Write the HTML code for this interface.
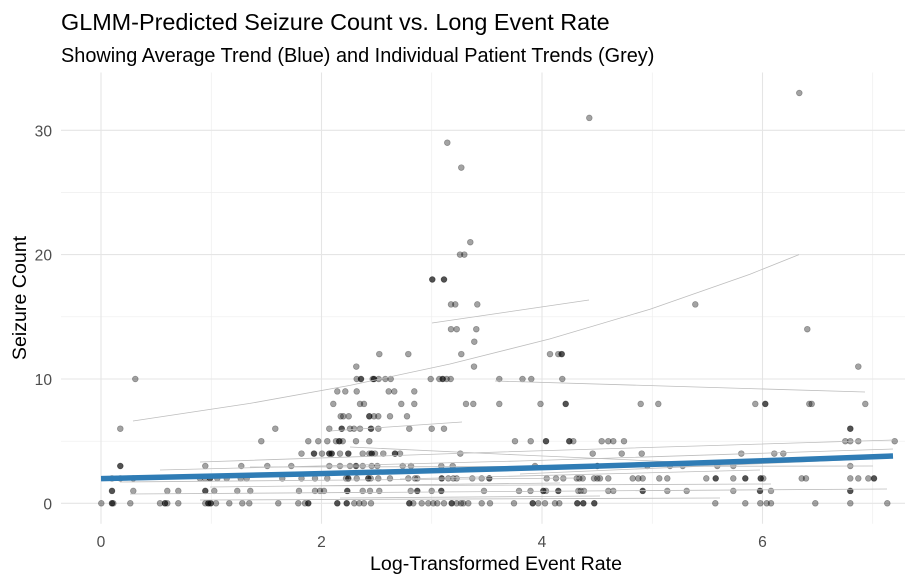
<!DOCTYPE html>
<html><head><meta charset="utf-8"><style>
html,body{margin:0;padding:0;background:#fff;}
svg{display:block;}
text{font-family:"Liberation Sans",Arial,sans-serif;}
.p{fill:rgba(0,0,0,0.36);stroke:rgba(0,0,0,0.32);stroke-width:0.7;}
.d{fill:rgba(0,0,0,0.68);stroke:rgba(0,0,0,0.5);stroke-width:0.7;}
.gl{fill:none;stroke:#bdbdbd;stroke-width:0.8;}
</style></head><body>
<svg width="905" height="582" viewBox="0 0 905 582" xmlns="http://www.w3.org/2000/svg">
<rect width="905" height="582" fill="#fff"/>
<!-- minor grid -->
<g stroke="#ededed" stroke-width="0.7">
<line x1="61" x2="905" y1="441.2" y2="441.2"/><line x1="61" x2="905" y1="316.8" y2="316.8"/><line x1="61" x2="905" y1="192.4" y2="192.4"/>
<line x1="211.25" x2="211.25" y1="72.5" y2="523.8"/><line x1="431.75" x2="431.75" y1="72.5" y2="523.8"/><line x1="652.25" x2="652.25" y1="72.5" y2="523.8"/><line x1="872.75" x2="872.75" y1="72.5" y2="523.8"/>
</g>
<!-- major grid -->
<g stroke="#e5e5e5" stroke-width="1.1">
<line x1="61" x2="905" y1="503.3" y2="503.3"/><line x1="61" x2="905" y1="379" y2="379"/><line x1="61" x2="905" y1="254.6" y2="254.6"/><line x1="61" x2="905" y1="130.3" y2="130.3"/>
<line x1="101" x2="101" y1="72.5" y2="523.8"/><line x1="321.5" x2="321.5" y1="72.5" y2="523.8"/><line x1="542" x2="542" y1="72.5" y2="523.8"/><line x1="762.5" x2="762.5" y1="72.5" y2="523.8"/>
</g>

<!-- points -->
<g>
<g transform="translate(0,503.3)">
<circle class="p" r="2.9" cx="101.3"/><circle class="d" r="2.9" cx="112"/><circle class="p" r="2.9" cx="113.3"/><circle class="p" r="2.9" cx="130.3"/><circle class="p" r="2.9" cx="160"/><circle class="d" r="2.9" cx="165"/><circle class="p" r="2.9" cx="167.3"/><circle class="p" r="2.9" cx="178.3"/><circle class="p" r="2.9" cx="205.3"/><circle class="d" r="2.9" cx="208.3"/><circle class="d" r="2.9" cx="210.7"/><circle class="p" r="2.9" cx="216"/><circle class="p" r="2.9" cx="229.3"/><circle class="p" r="2.9" cx="242.3"/><circle class="p" r="2.9" cx="249.3"/><circle class="p" r="2.9" cx="278.3"/><circle class="p" r="2.9" cx="298.3"/><circle class="p" r="2.9" cx="305"/><circle class="d" r="2.9" cx="308.3"/><circle class="d" r="2.9" cx="337.3"/><circle class="d" r="2.9" cx="346.7"/><circle class="p" r="2.9" cx="354.3"/><circle class="p" r="2.9" cx="359.3"/><circle class="p" r="2.9" cx="364"/><circle class="p" r="2.9" cx="371"/><circle class="d" r="2.9" cx="409.3"/><circle class="p" r="2.9" cx="413.3"/><circle class="p" r="2.9" cx="421.7"/><circle class="p" r="2.9" cx="428.3"/><circle class="p" r="2.9" cx="433.3"/><circle class="p" r="2.9" cx="437.3"/><circle class="p" r="2.9" cx="444"/><circle class="d" r="2.9" cx="451.7"/><circle class="p" r="2.9" cx="456.7"/><circle class="p" r="2.9" cx="461"/><circle class="p" r="2.9" cx="463.3"/><circle class="p" r="2.9" cx="468.3"/><circle class="p" r="2.9" cx="481.7"/><circle class="p" r="2.9" cx="490"/><circle class="p" r="2.9" cx="514"/><circle class="d" r="2.9" cx="532.7"/><circle class="p" r="2.9" cx="538.3"/><circle class="p" r="2.9" cx="545"/><circle class="p" r="2.9" cx="555"/><circle class="p" r="2.9" cx="559.3"/><circle class="d" r="2.9" cx="577.3"/><circle class="d" r="2.9" cx="583.3"/><circle class="d" r="2.9" cx="594.3"/><circle class="p" r="2.9" cx="715.3"/><circle class="p" r="2.9" cx="745.3"/><circle class="p" r="2.9" cx="760.3"/><circle class="p" r="2.9" cx="766.7"/><circle class="p" r="2.9" cx="771"/><circle class="p" r="2.9" cx="815.3"/><circle class="p" r="2.9" cx="850.3"/><circle class="p" r="2.9" cx="887.3"/>
</g>
<g transform="translate(0,490.9)">
<circle class="d" r="2.9" cx="112"/><circle class="p" r="2.9" cx="133.3"/><circle class="p" r="2.9" cx="167.3"/><circle class="p" r="2.9" cx="178.3"/><circle class="d" r="2.9" cx="205.3"/><circle class="p" r="2.9" cx="214.3"/><circle class="p" r="2.9" cx="237.3"/><circle class="p" r="2.9" cx="250.3"/><circle class="p" r="2.9" cx="299"/><circle class="p" r="2.9" cx="315"/><circle class="p" r="2.9" cx="320"/><circle class="p" r="2.9" cx="324"/><circle class="d" r="2.9" cx="347.3"/><circle class="p" r="2.9" cx="362.7"/><circle class="p" r="2.9" cx="370"/><circle class="p" r="2.9" cx="379.3"/><circle class="p" r="2.9" cx="410.7"/><circle class="d" r="2.9" cx="417.3"/><circle class="p" r="2.9" cx="431.7"/><circle class="d" r="2.9" cx="441.3"/><circle class="p" r="2.9" cx="484"/><circle class="p" r="2.9" cx="519"/><circle class="p" r="2.9" cx="530.5"/><circle class="d" r="2.9" cx="543.3"/><circle class="p" r="2.9" cx="546"/><circle class="d" r="2.9" cx="558.3"/><circle class="p" r="2.9" cx="578.3"/><circle class="p" r="2.9" cx="580.7"/><circle class="p" r="2.9" cx="584"/><circle class="p" r="2.9" cx="608.3"/><circle class="p" r="2.9" cx="613.3"/><circle class="d" r="2.9" cx="642.7"/><circle class="p" r="2.9" cx="667.3"/><circle class="p" r="2.9" cx="686.7"/><circle class="p" r="2.9" cx="733.3"/><circle class="d" r="2.9" cx="760"/><circle class="p" r="2.9" cx="771"/><circle class="d" r="2.9" cx="850.3"/>
</g>
<g transform="translate(0,478.4)">
<circle class="p" r="2.9" cx="112"/><circle class="p" r="2.9" cx="120.3"/><circle class="p" r="2.9" cx="133.3"/><circle class="p" r="2.9" cx="200"/><circle class="p" r="2.9" cx="205"/><circle class="d" r="2.9" cx="210"/><circle class="p" r="2.9" cx="217.3"/><circle class="p" r="2.9" cx="226.7"/><circle class="p" r="2.9" cx="240.7"/><circle class="p" r="2.9" cx="246.7"/><circle class="p" r="2.9" cx="282.3"/><circle class="p" r="2.9" cx="301.5"/><circle class="p" r="2.9" cx="315"/><circle class="p" r="2.9" cx="327.3"/><circle class="p" r="2.9" cx="346"/><circle class="d" r="2.9" cx="348.3"/><circle class="p" r="2.9" cx="356.7"/><circle class="d" r="2.9" cx="368.3"/><circle class="p" r="2.9" cx="370.7"/><circle class="p" r="2.9" cx="378.3"/><circle class="p" r="2.9" cx="390"/><circle class="p" r="2.9" cx="408.3"/><circle class="p" r="2.9" cx="415"/><circle class="p" r="2.9" cx="417.3"/><circle class="d" r="2.9" cx="441.7"/><circle class="p" r="2.9" cx="448.3"/><circle class="p" r="2.9" cx="453.3"/><circle class="p" r="2.9" cx="456.7"/><circle class="p" r="2.9" cx="472.3"/><circle class="p" r="2.9" cx="481.7"/><circle class="d" r="2.9" cx="489.3"/><circle class="p" r="2.9" cx="546.7"/><circle class="p" r="2.9" cx="556"/><circle class="p" r="2.9" cx="563.3"/><circle class="p" r="2.9" cx="576.7"/><circle class="p" r="2.9" cx="579.3"/><circle class="p" r="2.9" cx="582.7"/><circle class="p" r="2.9" cx="594"/><circle class="p" r="2.9" cx="597.3"/><circle class="p" r="2.9" cx="600"/><circle class="p" r="2.9" cx="608.3"/><circle class="p" r="2.9" cx="632.7"/><circle class="p" r="2.9" cx="638.3"/><circle class="p" r="2.9" cx="642.7"/><circle class="p" r="2.9" cx="659.3"/><circle class="p" r="2.9" cx="667.3"/><circle class="p" r="2.9" cx="706.3"/><circle class="d" r="2.9" cx="715.7"/><circle class="p" r="2.9" cx="733.3"/><circle class="d" r="2.9" cx="745.3"/><circle class="d" r="2.9" cx="760.7"/><circle class="p" r="2.9" cx="763.3"/><circle class="p" r="2.9" cx="801.7"/><circle class="p" r="2.9" cx="806"/><circle class="p" r="2.9" cx="850.3"/><circle class="p" r="2.9" cx="858.3"/><circle class="p" r="2.9" cx="868.3"/><circle class="d" r="2.9" cx="874"/>
</g>
<g transform="translate(0,466)">
<circle class="d" r="2.9" cx="120.3"/><circle class="p" r="2.9" cx="205.3"/><circle class="p" r="2.9" cx="241.3"/><circle class="p" r="2.9" cx="267.3"/><circle class="p" r="2.9" cx="291.3"/><circle class="p" r="2.9" cx="329.3"/><circle class="p" r="2.9" cx="340"/><circle class="p" r="2.9" cx="350"/><circle class="d" r="2.9" cx="356"/><circle class="p" r="2.9" cx="362.7"/><circle class="p" r="2.9" cx="371.7"/><circle class="p" r="2.9" cx="377.3"/><circle class="p" r="2.9" cx="402.7"/><circle class="p" r="2.9" cx="411"/><circle class="p" r="2.9" cx="441.3"/><circle class="p" r="2.9" cx="452.7"/><circle class="p" r="2.9" cx="535"/><circle class="d" r="2.9" cx="597.3"/><circle class="p" r="2.9" cx="647.3"/><circle class="p" r="2.9" cx="670"/><circle class="p" r="2.9" cx="682.7"/><circle class="p" r="2.9" cx="717.3"/><circle class="p" r="2.9" cx="733.3"/><circle class="p" r="2.9" cx="850.3"/>
</g>
<g transform="translate(0,453.6)">
<circle class="p" r="2.9" cx="301.5"/><circle class="d" r="2.9" cx="314"/><circle class="p" r="2.9" cx="322"/><circle class="d" r="2.9" cx="329.3"/><circle class="d" r="2.9" cx="331.7"/><circle class="p" r="2.9" cx="340"/><circle class="d" r="2.9" cx="348.3"/><circle class="p" r="2.9" cx="362.7"/><circle class="p" r="2.9" cx="369.3"/><circle class="d" r="2.9" cx="371.7"/><circle class="p" r="2.9" cx="375"/><circle class="p" r="2.9" cx="383.3"/><circle class="d" r="2.9" cx="395"/><circle class="p" r="2.9" cx="400"/><circle class="p" r="2.9" cx="460.3"/><circle class="p" r="2.9" cx="592.7"/><circle class="p" r="2.9" cx="621.7"/><circle class="p" r="2.9" cx="641.7"/><circle class="p" r="2.9" cx="741.3"/><circle class="p" r="2.9" cx="774.3"/><circle class="p" r="2.9" cx="783.3"/>
</g>
<g transform="translate(0,441.2)">
<circle class="p" r="2.9" cx="261.3"/><circle class="p" r="2.9" cx="308.3"/><circle class="p" r="2.9" cx="318.3"/><circle class="p" r="2.9" cx="327.3"/><circle class="p" r="2.9" cx="336"/><circle class="d" r="2.9" cx="339.3"/><circle class="p" r="2.9" cx="342.7"/><circle class="p" r="2.9" cx="356"/><circle class="p" r="2.9" cx="369.3"/><circle class="p" r="2.9" cx="515"/><circle class="p" r="2.9" cx="530.7"/><circle class="d" r="2.9" cx="546"/><circle class="d" r="2.9" cx="569.3"/><circle class="p" r="2.9" cx="573.3"/><circle class="p" r="2.9" cx="601.7"/><circle class="p" r="2.9" cx="608.3"/><circle class="p" r="2.9" cx="613.3"/><circle class="p" r="2.9" cx="624"/><circle class="p" r="2.9" cx="845.3"/><circle class="p" r="2.9" cx="850.3"/><circle class="p" r="2.9" cx="858.3"/><circle class="p" r="2.9" cx="894.7"/>
</g>
<g transform="translate(0,428.7)">
<circle class="p" r="2.9" cx="120.3"/><circle class="p" r="2.9" cx="275.3"/><circle class="p" r="2.9" cx="329.3"/><circle class="d" r="2.9" cx="341.7"/><circle class="p" r="2.9" cx="350"/><circle class="p" r="2.9" cx="354"/><circle class="p" r="2.9" cx="360"/><circle class="d" r="2.9" cx="371"/><circle class="p" r="2.9" cx="378.3"/><circle class="p" r="2.9" cx="409.3"/><circle class="p" r="2.9" cx="431.7"/><circle class="p" r="2.9" cx="444"/><circle class="d" r="2.9" cx="850.3"/>
</g>
<g transform="translate(0,416.3)">
<circle class="p" r="2.9" cx="340.7"/><circle class="p" r="2.9" cx="343.3"/><circle class="p" r="2.9" cx="348.7"/><circle class="d" r="2.9" cx="369.3"/><circle class="p" r="2.9" cx="374"/><circle class="p" r="2.9" cx="378.3"/><circle class="p" r="2.9" cx="390"/><circle class="p" r="2.9" cx="407"/>
</g>
<g transform="translate(0,403.9)">
<circle class="p" r="2.9" cx="333.3"/><circle class="p" r="2.9" cx="360"/><circle class="p" r="2.9" cx="364"/><circle class="p" r="2.9" cx="401.3"/><circle class="p" r="2.9" cx="414.3"/><circle class="p" r="2.9" cx="466"/><circle class="p" r="2.9" cx="473.3"/><circle class="p" r="2.9" cx="499.3"/><circle class="p" r="2.9" cx="540.5"/><circle class="d" r="2.9" cx="565.7"/><circle class="p" r="2.9" cx="640.7"/><circle class="p" r="2.9" cx="658.3"/><circle class="p" r="2.9" cx="755.3"/><circle class="d" r="2.9" cx="765.3"/><circle class="p" r="2.9" cx="809.3"/><circle class="p" r="2.9" cx="811.7"/><circle class="p" r="2.9" cx="865.3"/>
</g>
<g transform="translate(0,391.4)">
<circle class="p" r="2.9" cx="337.3"/><circle class="p" r="2.9" cx="345.3"/><circle class="p" r="2.9" cx="356.7"/><circle class="p" r="2.9" cx="388.7"/><circle class="p" r="2.9" cx="394.3"/><circle class="p" r="2.9" cx="414.3"/>
</g>
<g transform="translate(0,379)">
<circle class="p" r="2.9" cx="135.3"/><circle class="p" r="2.9" cx="356.7"/><circle class="d" r="2.9" cx="361"/><circle class="p" r="2.9" cx="372.7"/><circle class="d" r="2.9" cx="374"/><circle class="p" r="2.9" cx="378.7"/><circle class="p" r="2.9" cx="385.3"/><circle class="p" r="2.9" cx="390.7"/><circle class="p" r="2.9" cx="430.7"/><circle class="p" r="2.9" cx="439.3"/><circle class="d" r="2.9" cx="442.7"/><circle class="p" r="2.9" cx="446.7"/><circle class="p" r="2.9" cx="450.7"/><circle class="p" r="2.9" cx="499.3"/><circle class="p" r="2.9" cx="522.5"/><circle class="p" r="2.9" cx="531.3"/><circle class="p" r="2.9" cx="562.3"/>
</g>
<g transform="translate(0,366.6)"><circle class="p" r="2.9" cx="356.3"/><circle class="p" r="2.9" cx="474"/><circle class="p" r="2.9" cx="858.3"/></g>
<g transform="translate(0,354.1)"><circle class="p" r="2.9" cx="379.3"/><circle class="p" r="2.9" cx="408.3"/><circle class="p" r="2.9" cx="461.3"/><circle class="p" r="2.9" cx="550"/><circle class="p" r="2.9" cx="558.3"/><circle class="d" r="2.9" cx="561.7"/></g>
<g transform="translate(0,341.7)"><circle class="p" r="2.9" cx="474.3"/></g>
<g transform="translate(0,329.2)"><circle class="p" r="2.9" cx="451"/><circle class="p" r="2.9" cx="456.7"/><circle class="p" r="2.9" cx="476.3"/><circle class="p" r="2.9" cx="807.3"/></g>
<g transform="translate(0,304.4)"><circle class="p" r="2.9" cx="451"/><circle class="p" r="2.9" cx="455.3"/><circle class="p" r="2.9" cx="477.3"/><circle class="p" r="2.9" cx="695.3"/></g>
<g transform="translate(0,279.5)"><circle class="d" r="2.9" cx="432.3"/><circle class="d" r="2.9" cx="444"/></g>
<g transform="translate(0,254.6)"><circle class="p" r="2.9" cx="460"/><circle class="p" r="2.9" cx="464.3"/></g>
<g transform="translate(0,242.2)"><circle class="p" r="2.9" cx="470.3"/></g>
<g transform="translate(0,167.6)"><circle class="p" r="2.9" cx="461.3"/></g>
<g transform="translate(0,142.7)"><circle class="p" r="2.9" cx="447.3"/></g>
<g transform="translate(0,117.9)"><circle class="p" r="2.9" cx="589.3"/></g>
<g transform="translate(0,93)"><circle class="p" r="2.9" cx="799.3"/></g>
</g>

<!-- individual patient trend lines -->
<g class="gl">
<polyline class="gl" points="133,421 250,403.4 350,385.4 450,364 550,338.9 650,309.2 750,274.2 799,254.6"/>
<polyline class="gl" points="432,323 589,300"/>
<polyline class="gl" points="495,381 680,386.5 865,392"/>
<polyline class="gl" points="330,431 462,422"/>
<polyline class="gl" points="350,447 520,455 700,463"/>
<polyline class="gl" points="200,462 500,452 893,440"/>
<polyline class="gl" points="160,470 520,461 893,449"/>
<polyline class="gl" points="250,467 873,466"/>
<polyline class="gl" points="120,482 580,478"/>
<polyline class="gl" points="300,486 771,484"/>
<polyline class="gl" points="130,494 887,489"/>
<polyline class="gl" points="340,498 600,496"/>
<polyline class="gl" points="200,500 720,498"/>
<polyline class="gl" points="400,479 760,470"/>
<polyline class="gl" points="210,487 560,483"/>
<polyline class="gl" points="520,474 893,458"/>
</g>

<!-- average trend -->
<polyline fill="none" stroke="#2f7cb5" stroke-width="5.5" stroke-linejoin="round" points="101,478.6 200,476.35 300,474.1 400,471.6 500,468.9 600,466 700,462.9 800,459.5 893,456"/>

<!-- tick labels -->
<g font-size="15.6" fill="#4d4d4d">
<g text-anchor="end">
<text x="52" y="509.3">0</text>
<text x="52" y="385">10</text>
<text x="52" y="260.6">20</text>
<text x="52" y="136.3">30</text>
</g>
<g text-anchor="middle">
<text x="101" y="547">0</text>
<text x="321.5" y="547">2</text>
<text x="542" y="547">4</text>
<text x="762.5" y="547">6</text>
</g>
</g>

<!-- axis titles -->
<text x="496" y="570" font-size="19.6" text-anchor="middle" fill="#000">Log-Transformed Event Rate</text>
<text transform="translate(26,298) rotate(-90)" font-size="19.6" text-anchor="middle" fill="#000">Seizure Count</text>

<!-- titles -->
<text x="61" y="30" font-size="23.4" fill="#000">GLMM-Predicted Seizure Count vs. Long Event Rate</text>
<text x="61" y="62" font-size="19.9" fill="#000">Showing Average Trend (Blue) and Individual Patient Trends (Grey)</text>
</svg>
</body></html>
